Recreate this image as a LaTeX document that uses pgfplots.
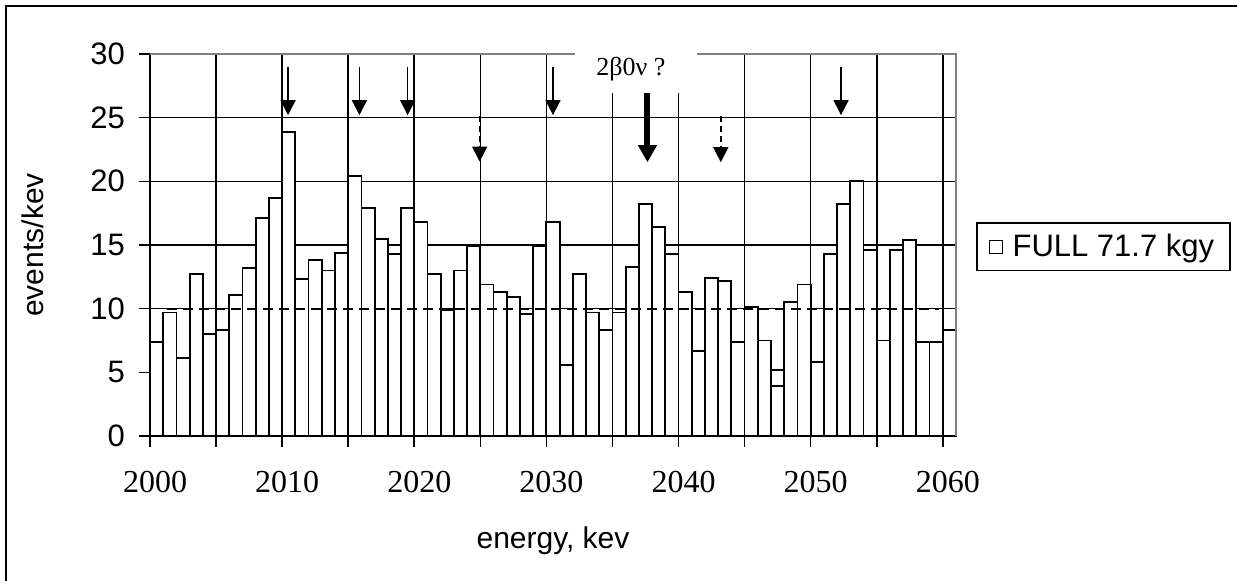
\documentclass[border=0pt]{standalone}
\usepackage{fontspec}
\setmainfont{Liberation Sans}
\newfontfamily\tms{Liberation Serif}
\usepackage{pgfplots}
\pgfplotsset{compat=1.18}
\usetikzlibrary{arrows.meta}
\begin{document}
\begin{tikzpicture}
\useasboundingbox (0,0) rectangle (618.5pt,290.5pt);
\draw[line width=1pt] (3pt,0) -- (3pt,287.5pt) -- (618.5pt,287.5pt);
\begin{axis}[
 at={(75pt,72.5pt)}, anchor=south west,
 scale only axis, width=403pt, height=191pt,
 xmin=2000, xmax=2061, ymin=0, ymax=30,
 axis x line*=bottom, axis y line*=left,
 axis line style={-, black, line width=0.8pt},
 xtick={2000,2005,...,2060},
 xticklabels={2000,,2010,,2020,,2030,,2040,,2050,,2060},
 ytick={0,5,...,30},
 yticklabels={0,5,10,15,20,25,30},
 tick align=outside,
 major tick length=5.5pt,
 tick style={black, line width=0.8pt},
 grid=major,
 major grid style={black, line width=0.8pt},
 xticklabel style={font=\tms\fontsize{16}{18}\selectfont, xshift=2.5pt, yshift=-8.5pt},
 yticklabel style={font=\fontsize{15.5}{18}\selectfont, xshift=-3.5pt},
 clip=false,
 legend style={at={(1.0248,0.56)}, anchor=north west, draw=black, line width=0.8pt,
   font=\fontsize{15.5}{18}\selectfont, inner xsep=6pt, inner ysep=3.5pt, column sep=3pt},
]
\addplot[ybar interval, draw=black, fill=white, line width=0.9pt,
  legend image code/.code={\draw[black, fill=white, line width=0.5pt] (0pt,-3.2pt) rectangle (6.4pt,3.2pt);}]
coordinates {
(2000,7.4) (2001,9.7) (2002,6.1) (2003,12.7) (2004,8.0) (2005,8.3) (2006,11.1) (2007,13.2) (2008,17.1) (2009,18.7)
(2010,23.9) (2011,12.3) (2012,13.8) (2013,13.0) (2014,14.4) (2015,20.4) (2016,17.9) (2017,15.5) (2018,14.3) (2019,17.9)
(2020,16.8) (2021,12.7) (2022,9.9) (2023,13.0) (2024,14.9) (2025,11.9) (2026,11.3) (2027,10.9) (2028,9.6) (2029,14.9)
(2030,16.8) (2031,5.6) (2032,12.7) (2033,9.7) (2034,8.3) (2035,9.7) (2036,13.3) (2037,18.2) (2038,16.4) (2039,14.3)
(2040,11.3) (2041,6.7) (2042,12.4) (2043,12.2) (2044,7.4) (2045,10.15) (2046,7.5) (2047,5.2) (2048,10.5) (2049,11.9)
(2050,5.8) (2051,14.3) (2052,18.2) (2053,20.0) (2054,14.6) (2055,7.5) (2056,14.6) (2057,15.4) (2058,7.4) (2059,7.4)
(2060,8.3) (2061,8.3)
};
\addlegendentry{FULL 71.7 kgy}
\addplot[ybar interval, draw=black, fill=white, line width=0.9pt, forget plot]
coordinates {(2047,3.9) (2048,3.9)};
\addplot[black, line width=0.9pt, dash pattern=on 4.7pt off 3.3pt, forget plot]
coordinates {(2001.3,10) (2059.7,10)};
% label box
\fill[white] (axis cs:2032.2,26.95) rectangle (axis cs:2041.4,30.5);
\node[font=\tms\fontsize{13}{15}\selectfont] at (axis cs:2036.4,28.83) {2β0ν ?};
\draw[gray, line width=0.8pt] (axis cs:2000,30) -- (axis cs:2032.2,30);
\draw[gray, line width=0.8pt] (axis cs:2041.4,30) -- (axis cs:2061,30) -- (axis cs:2061,0);
% arrows
\pgfplotsinvokeforeach{2010.45,2015.85,2019.5,2030.5,2052.3}{
  \draw[-{Triangle[width=7.5pt,length=7.5pt]}, line width=0.8pt] (axis cs:#1,29.0) -- (axis cs:#1,25.2);
}
\draw[-{Triangle[width=7.5pt,length=7.5pt]}, line width=0.8pt, dash pattern=on 3pt off 2pt] (axis cs:2024.95,25.1) -- (axis cs:2024.95,21.55);
\draw[-{Triangle[width=7.5pt,length=7.5pt]}, line width=0.8pt, dash pattern=on 3pt off 2pt] (axis cs:2043.2,25.1) -- (axis cs:2043.2,21.5);
\draw[-{Triangle[width=9pt,length=8.5pt]}, line width=3pt] (axis cs:2037.65,26.95) -- (axis cs:2037.65,21.5);
\end{axis}
\node[font=\fontsize{15}{18}\selectfont] at (276.5pt,20pt) {energy, kev};
\node[rotate=90, font=\fontsize{15}{18}\selectfont] at (16.5pt,168pt) {events/kev};
\end{tikzpicture}
\end{document}
